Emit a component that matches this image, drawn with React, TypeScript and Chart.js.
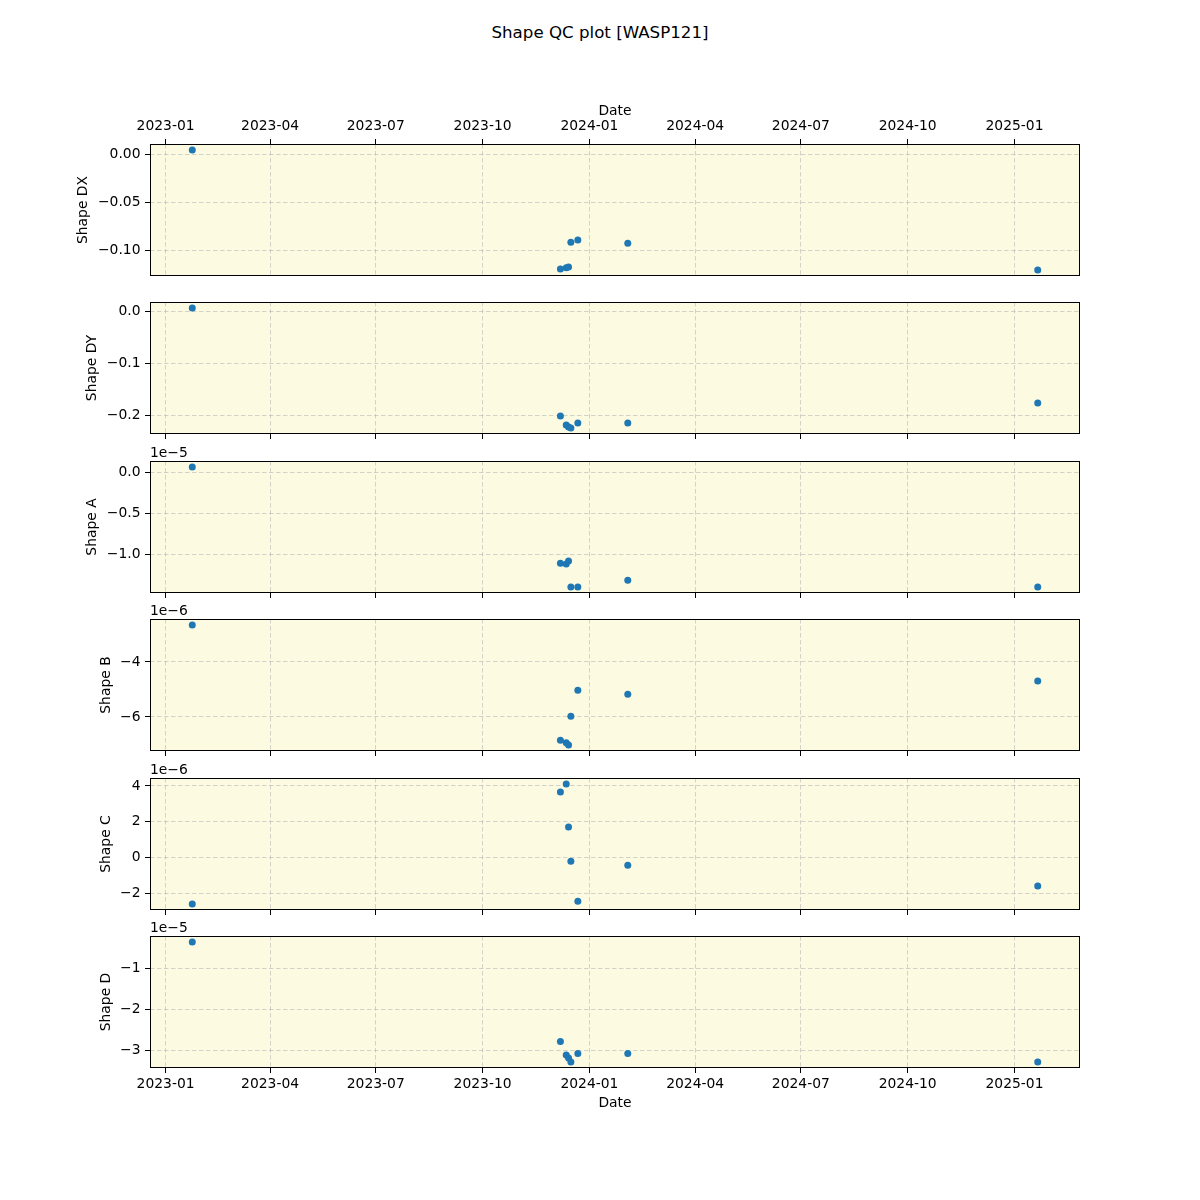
import React, { useEffect, useRef } from "react";
import { Chart, registerables } from "chart.js";

Chart.register(...registerables);

// ---------------- data ----------------
const chartTitle = "Shape QC plot [WASP121]";
const dates = [
  "2023-01-24",
  "2023-12-07",
  "2023-12-12",
  "2023-12-14",
  "2023-12-16",
  "2023-12-22",
  "2024-02-03",
  "2025-01-21",
];
const shapeDX = [0.0042, -0.1198, -0.1184, -0.1177, -0.092, -0.0896, -0.093, -0.1208];
const shapeDY = [0.0058, -0.2019, -0.219, -0.223, -0.225, -0.2155, -0.2155, -0.177];
const shapeA = [0.063e-5, -1.11e-5, -1.118e-5, -1.082e-5, -1.399e-5, -1.399e-5, -1.317e-5, -1.399e-5];
const shapeB = [-2.655e-6, -6.85e-6, -6.94e-6, -7.02e-6, -5.975e-6, -5.03e-6, -5.17e-6, -4.69e-6];
const shapeC = [-2.61e-6, 3.66e-6, 4.11e-6, 1.7e-6, -0.21e-6, -2.46e-6, -0.44e-6, -1.6e-6];
const shapeD = [-0.366e-5, -2.79e-5, -3.12e-5, -3.19e-5, -3.29e-5, -3.08e-5, -3.08e-5, -3.29e-5];

const dateTickLabels = [
  "2023-01",
  "2023-04",
  "2023-07",
  "2023-10",
  "2024-01",
  "2024-04",
  "2024-07",
  "2024-10",
  "2025-01",
];
const yTicksDX = [0, -0.05, -0.1];
const yTicksDY = [0, -0.1, -0.2];
const yTicksA = [0, -0.5e-5, -1.0e-5];
const yTicksB = [-4e-6, -6e-6];
const yTicksC = [4e-6, 2e-6, 0, -2e-6];
const yTicksD = [-1e-5, -2e-5, -3e-5];

// ---------------- styling ----------------
const FONT = "'DejaVu Sans', sans-serif";
const FS = 13.89;
const BG = "#fcfbe2";
const POINT = "#1f77b4";
const GRID = "rgba(176,176,176,0.55)";

const toMs = (d: string) => Date.parse(d + "T00:00:00Z");
const xTickValues = dateTickLabels.map((s) => {
  const [y, m] = s.split("-").map(Number);
  return Date.UTC(y, m - 1, 1);
});
const xData = dates.map(toMs);
const xMinData = Math.min(...xData);
const xMaxData = Math.max(...xData);
const xPad = (xMaxData - xMinData) * 0.05;

const minus = (s: string) => s.replace("-", "\u2212");

type PanelDef = {
  label: string;
  values: number[];
  ticks: number[];
  factor: number;
  decimals: number;
  offsetText: string;
  plotTop: number;
  titlePad: number;
  mode: "top" | "mid" | "bottom";
};

const panels: PanelDef[] = [
  { label: "Shape DX", values: shapeDX, ticks: yTicksDX, factor: 1, decimals: 2, offsetText: "", plotTop: 144, titlePad: 75.2, mode: "top" },
  { label: "Shape DY", values: shapeDY, ticks: yTicksDY, factor: 1, decimals: 1, offsetText: "", plotTop: 302, titlePad: 84.2, mode: "mid" },
  { label: "Shape A", values: shapeA, ticks: yTicksA, factor: 1e-5, decimals: 1, offsetText: "1e\u22125", plotTop: 461, titlePad: 84.2, mode: "mid" },
  { label: "Shape B", values: shapeB, ticks: yTicksB, factor: 1e-6, decimals: 0, offsetText: "1e\u22126", plotTop: 619, titlePad: 97.7, mode: "mid" },
  { label: "Shape C", values: shapeC, ticks: yTicksC, factor: 1e-6, decimals: 0, offsetText: "1e\u22126", plotTop: 778, titlePad: 97.7, mode: "mid" },
  { label: "Shape D", values: shapeD, ticks: yTicksD, factor: 1e-5, decimals: 0, offsetText: "1e\u22125", plotTop: 936, titlePad: 97.7, mode: "bottom" },
];

const PLOT_H = 132;
const TOP_AXIS_H = 60;
const BOTTOM_AXIS_H = 50;

function layoutFor(p: PanelDef) {
  if (p.mode === "top") {
    return { canvasTop: p.plotTop - TOP_AXIS_H, height: TOP_AXIS_H + PLOT_H + 14, padTop: 0, padBottom: 14, axisH: TOP_AXIS_H };
  }
  if (p.mode === "bottom") {
    return { canvasTop: p.plotTop - 20, height: 20 + PLOT_H + BOTTOM_AXIS_H, padTop: 20, padBottom: 0, axisH: BOTTOM_AXIS_H };
  }
  return { canvasTop: p.plotTop - 20, height: 20 + PLOT_H + 14, padTop: 20, padBottom: 6, axisH: 8 };
}

function Panel({ p }: { p: PanelDef }) {
  const ref = useRef<HTMLCanvasElement | null>(null);
  const lay = layoutFor(p);

  useEffect(() => {
    if (!ref.current) return;
    const vMin = Math.min(...p.values);
    const vMax = Math.max(...p.values);
    const vPad = (vMax - vMin) * 0.05;

    const framePlugin = {
      id: "frame" + p.label,
      beforeDraw(chart: any) {
        const { ctx, chartArea: a } = chart;
        ctx.save();
        ctx.fillStyle = BG;
        ctx.fillRect(a.left, a.top, a.right - a.left, a.bottom - a.top);
        ctx.restore();
      },
      afterDraw(chart: any) {
        const { ctx, chartArea: a } = chart;
        ctx.save();
        ctx.strokeStyle = "#000";
        ctx.lineWidth = 1;
        ctx.strokeRect(a.left + 0.5, a.top + 0.5, a.right - a.left - 1, a.bottom - a.top - 1);
        if (p.offsetText) {
          ctx.fillStyle = "#000";
          ctx.font = `${FS}px ${FONT}`;
          ctx.textAlign = "left";
          ctx.textBaseline = "alphabetic";
          ctx.fillText(p.offsetText, a.left, a.top - 4);
        }
        ctx.restore();
      },
    };

    const xScale: any = {
      type: "linear",
      position: p.mode === "top" ? "top" : "bottom",
      min: xMinData - xPad,
      max: xMaxData + xPad,
      afterBuildTicks: (s: any) => {
        s.ticks = xTickValues.map((v) => ({ value: v }));
      },
      afterFit: (s: any) => {
        s.height = lay.axisH;
      },
      ticks: {
        display: p.mode !== "mid",
        color: "#000",
        font: { family: FONT, size: FS },
        padding: p.mode === "top" ? 3.8 : 2.6,
        maxRotation: 0,
        autoSkip: false,
        callback: (v: number) => {
          const i = xTickValues.indexOf(v);
          return i >= 0 ? dateTickLabels[i] : "";
        },
      },
      grid: {
        color: GRID,
        lineWidth: 1,
        tickLength: 5,
        tickColor: "#000",
        tickWidth: 1,
        tickBorderDash: [],
      },
      border: { display: false, dash: [4.5, 2.5] },
      title: {
        display: p.mode !== "mid",
        text: "Date",
        color: "#000",
        font: { family: FONT, size: FS },
        padding: p.mode === "top" ? { top: 18.7, bottom: 0 } : { top: 0, bottom: 5.9 },
      },
    };

    const yScale: any = {
      type: "linear",
      position: "left",
      min: vMin - vPad,
      max: vMax + vPad,
      afterBuildTicks: (s: any) => {
        s.ticks = p.ticks.map((v) => ({ value: v }));
      },
      afterFit: (s: any) => {
        s.width = 150;
      },
      ticks: {
        color: "#000",
        font: { family: FONT, size: FS },
        padding: 4.5,
        callback: (v: number) => {
          const scaled = v / p.factor;
          const r = Math.abs(scaled) < 1e-9 ? 0 : scaled;
          return minus(r.toFixed(p.decimals));
        },
      },
      grid: {
        color: GRID,
        lineWidth: 1,
        tickLength: 5,
        tickColor: "#000",
        tickWidth: 1,
        tickBorderDash: [],
      },
      border: { display: false, dash: [4.5, 2.5] },
      title: {
        display: true,
        text: p.label,
        color: "#000",
        font: { family: FONT, size: FS },
        padding: { top: p.titlePad, bottom: 0 },
      },
    };

    const chart = new Chart(ref.current, {
      type: "scatter",
      data: {
        datasets: [
          {
            label: p.label,
            data: dates.map((d, i) => ({ x: toMs(d), y: p.values[i] })),
            pointRadius: 3.5,
            pointBackgroundColor: POINT,
            pointBorderColor: POINT,
            pointBorderWidth: 0,
            showLine: false,
          },
        ],
      },
      options: {
        animation: false,
        responsive: false,
        maintainAspectRatio: false,
        events: [],
        layout: { padding: { left: 0, right: 120, top: lay.padTop, bottom: lay.padBottom } },
        plugins: { legend: { display: false }, tooltip: { enabled: false }, title: { display: false } },
        scales: { x: xScale, y: yScale },
      },
      plugins: [framePlugin],
    });
    return () => chart.destroy();
  }, []);

  return (
    <canvas
      ref={ref}
      width={1200}
      height={lay.height}
      style={{ position: "absolute", left: 0, top: lay.canvasTop, width: 1200, height: lay.height }}
    />
  );
}

export default function App() {
  return (
    <div style={{ position: "absolute", left: 0, top: 0, width: 1200, height: 1200, background: "#fff", overflow: "hidden" }}>
      <div
        style={{
          position: "absolute",
          left: 0,
          top: 22.5,
          width: 1200,
          textAlign: "center",
          fontFamily: FONT,
          fontSize: 16.67,
          lineHeight: "20px",
          color: "#000",
        }}
      >
        {chartTitle}
      </div>
      {panels.map((p) => (
        <Panel key={p.label} p={p} />
      ))}
    </div>
  );
}
